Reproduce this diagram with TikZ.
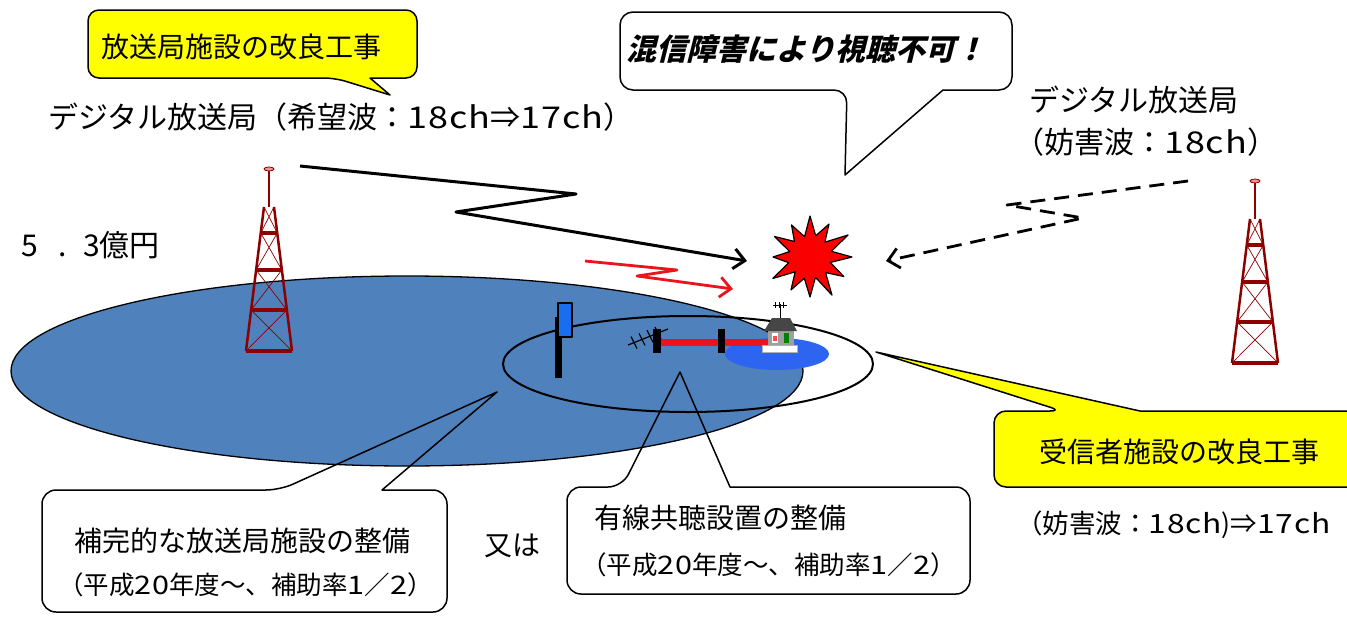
\documentclass[tikz,border=0pt]{standalone}
\usepackage{fontspec}
\setmainfont{Noto Sans CJK JP}
\newfontfamily\slantfont{Noto Sans CJK JP}[FakeSlant=0.25]
\newfontfamily\widefont{Noto Sans CJK JP}[FakeStretch=1.2, LetterSpace=3]
\usetikzlibrary{arrows.meta,calc}

\definecolor{areablue}{RGB}{79,129,189}
\definecolor{spotblue}{RGB}{45,100,240}
\definecolor{panelblue}{RGB}{25,110,240}
\definecolor{towerred}{RGB}{140,0,0}
\definecolor{towerpink}{RGB}{232,150,150}
\definecolor{calloutyellow}{RGB}{255,255,0}
\definecolor{burstred}{RGB}{250,0,0}
\definecolor{cablered}{RGB}{235,20,30}

% latin digits and letters set a little wider
\newcommand{\chnum}[1]{{\widefont #1}}

\tikzset{
  callout/.style={draw=black, line width=1.5pt, line join=round},
  lbl/.style={inner sep=0pt, font=\fontsize{28}{32}\selectfont},
  lblL/.style={inner sep=0pt, font=\fontsize{30}{34}\selectfont},
  lblS/.style={inner sep=0pt, font=\fontsize{25.5}{28}\selectfont},
  wave/.style={line width=3pt, -{Straight Barb[length=11pt,width=20pt]}},
  radiotower/.pic={
    \fill[towerpink, draw=towerred, line width=0.8pt] (0,0) ellipse [x radius=5, y radius=2];
    \draw[towerred, line width=2.5pt] (0,2) -- (0,38);
    \draw[towerred, line width=0.7pt]
      (-5,38) -- (8.25,64) (5,38) -- (-8.25,64)
      (-8.25,64) -- (12.875,101) (8.25,64) -- (-12.875,101)
      (-12.875,101) -- (17.875,141) (12.875,101) -- (-17.875,141)
      (-17.875,141) -- (23,182) (17.875,141) -- (-23,182);
    \draw[towerred, line width=2.5pt] (-5,38) -- (-23,182) (5,38) -- (23,182);
    \draw[towerred, line width=3.5pt]
      (-8.25,64) -- (8.25,64) (-12.875,101) -- (12.875,101)
      (-17.875,141) -- (17.875,141) (-23,182) -- (23,182);
  }
}

\begin{document}
\begin{tikzpicture}[x=1pt, y=-1pt, line join=round]
\clip (0,0) rectangle (1347,616);
\fill[white] (0,0) rectangle (1347,616);

% service areas
\draw[fill=areablue, line width=1.3pt] (407,371) ellipse [x radius=396, y radius=95];
\fill[spotblue] (777,354) ellipse [x radius=52, y radius=16];
\draw[line width=2pt] (688,364) ellipse [x radius=185, y radius=48];

% towers
\pic (towerWanted) at (269,169) {radiotower};
\pic (towerJam) at (1255,181) {radiotower};

% relay station panel on its pole
\fill[black] (555,317) rectangle (562,378);
\draw[fill=panelblue, line width=1.2pt] (558,303) rectangle (572,337);

% cable line: yagi, poles and red cable
\draw[line width=1.2pt] (628,345) -- (668,329);
\foreach \t in {0.15,0.35,0.55,0.75} {
  \draw[line width=1.2pt] ($(628,345)!\t!(668,329)$) ++(-3,-6) -- ++(6,12);
}
\fill[cablered] (658,339) rectangle (772,346);
\fill[black] (653,329) rectangle (661,353);
\fill[black] (718,329) rectangle (725,353);

% receiving house
\draw[line width=0.8pt] (780,318) -- (780,304);
\draw[line width=1pt] (773,305) -- (787,305) (775,302) -- (775,308) (779,302) -- (779,308) (783,302) -- (783,308);
\fill[white, draw=gray!60, line width=0.5pt] (762,345) rectangle (797,352);
\fill[gray!75] (768,328) rectangle (794,345);
\fill[gray!55!black] (764,331) -- (772,318) -- (790,318) -- (797,331) -- cycle;
\fill[white] (772,333) rectangle (778,343);
\fill[red!70] (773,336) rectangle (777,341);
\fill[green!50!black] (784,333) rectangle (789,343);

% interference burst
\draw[fill=burstred, line width=1.2pt, shift={(810,257)}]
  (0:42) -- (15:21) -- (30:39) -- (45:22) -- (60:44) -- (75:21) -- (90:40)
  -- (105:22) -- (120:38) -- (135:21) -- (150:43) -- (165:22) -- (180:37)
  -- (195:21) -- (210:41) -- (225:22) -- (240:37) -- (255:21) -- (270:41)
  -- (285:22) -- (300:38) -- (315:21) -- (330:44) -- (345:22) -- cycle;

% wanted wave
\coordinate (wantStart) at (300,166);
\coordinate (wantEnd) at (747,261);
\draw[wave] (wantStart) -- (576,194) -- (456,212) -- (wantEnd);

% improved wave
\coordinate (newStart) at (585,261);
\coordinate (newEnd) at (733,289);
\draw[wave, cablered, line width=2.8pt] (newStart) -- (677,270) -- (637,276) -- (newEnd);

% interfering wave
\coordinate (jamStart) at (1188,181);
\coordinate (jamEnd) at (886,261);
\draw[wave, line width=2.8pt, dash pattern=on 15pt off 9pt]
  (jamStart) -- (1007,205) -- (1083,218) -- (jamEnd);

% callouts
\draw[callout, fill=calloutyellow, rounded corners=11pt]
  (370,78) -- (417,78) -- (417,10) -- (88,10) -- (88,78) -- (335,78)
  [sharp corners] -- (390,95) -- cycle;
\node[lbl] (stationWork) at (241,47) {放送局施設の改良工事};

\draw[callout, fill=white, rounded corners=13pt]
  (943,90) -- (1012,90) -- (1012,12) -- (620,12) -- (620,90) -- (847,90)
  [sharp corners] -- (845,175) -- cycle;
\node[lblL, font=\fontsize{30}{34}\slantfont\bfseries] (noView) at (806,49) {混信障害により視聴不可！};

\draw[callout, rounded corners=14pt]
  (382,490) -- (447,490) -- (447,612) -- (42,612) -- (42,490) -- (280,490)
  [sharp corners] -- (497,392) -- cycle;
\node[lbl, anchor=west] (relayTitle) at (74,541) {補完的な放送局施設の整備};
\node[lblS, anchor=west] (relayNote) at (58,585) {（平成\chnum{20}年度～、補助率\chnum{1}／\chnum{2}）};

\draw[callout, rounded corners=14pt]
  (730,487) -- (970,487) -- (970,594) -- (567,594) -- (567,487) -- (622,487)
  [sharp corners] -- (680,372) -- cycle;
\node[lbl, anchor=west] (cableTitle) at (594,518) {有線共聴設置の整備};
\node[lblS, anchor=west] (cableNote) at (581,565) {（平成\chnum{20}年度～、補助率\chnum{1}／\chnum{2}）};

\draw[callout, fill=calloutyellow, rounded corners=12pt]
  (1140,411) -- (1380,411) -- (1380,487) -- (994,487) -- (994,411) -- (1062,411)
  [sharp corners] -- (876,352) -- cycle;
\node[lbl] (receiverWork) at (1179,452) {受信者施設の改良工事};

% free labels
\node[lblL, anchor=west] (wantedLabel) at (48,117) {デジタル放送局（希望波：\chnum{18ch}⇒\chnum{17ch}）};
\node[lblL, anchor=west] (jamLabelA) at (1029,100) {デジタル放送局};
\node[lblL, anchor=west] (jamLabelB) at (1014,142) {（妨害波：\chnum{18ch}）};
\node[inner sep=0pt, font=\fontsize{26.5}{30}\selectfont, anchor=west] (jamLabelC) at (1016,525) {（妨害波：\chnum{18ch})⇒\chnum{17ch}};
\node[lblL, anchor=west] (cost) at (21,245) {5\hspace{21pt}.\hspace{16pt}3億円};
\node[lbl] (orLabel) at (512,546) {又は};
\end{tikzpicture}
\end{document}
